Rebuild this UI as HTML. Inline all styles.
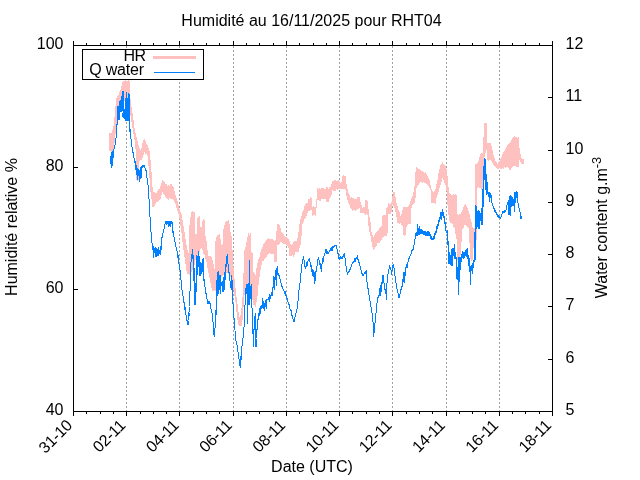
<!DOCTYPE html>
<html lang="fr"><head><meta charset="utf-8"><title>Humidité RHT04</title>
<style>html,body{margin:0;padding:0;background:#fff;}svg{display:block;will-change:transform;}text{font-family:"Liberation Sans",sans-serif;font-size:16px;fill:#000;}</style></head><body>
<svg width="640" height="480" viewBox="0 0 640 480">
<rect width="640" height="480" fill="#fff"/>
<g stroke="#a0a0a0" stroke-width="1" stroke-dasharray="2,2" shape-rendering="crispEdges">
<line x1="126.5" y1="412.0" x2="126.5" y2="45.5"/>
<line x1="179.5" y1="412.0" x2="179.5" y2="45.5"/>
<line x1="233.5" y1="412.0" x2="233.5" y2="45.5"/>
<line x1="286.5" y1="412.0" x2="286.5" y2="45.5"/>
<line x1="339.5" y1="412.0" x2="339.5" y2="45.5"/>
<line x1="392.5" y1="412.0" x2="392.5" y2="45.5"/>
<line x1="446.5" y1="412.0" x2="446.5" y2="45.5"/>
<line x1="499.5" y1="412.0" x2="499.5" y2="45.5"/>
</g>
<polygon fill="#ffc0c0" stroke="none" shape-rendering="crispEdges" points="109.0,133.0 109.8,132.6 110.5,133.4 111.2,133.1 112.0,133.0 112.7,129.3 113.3,126.6 114.0,125.0 114.5,117.0 115.0,111.0 115.6,104.8 116.2,99.0 117.0,96.5 117.8,96.1 118.6,94.3 119.4,92.5 120.2,91.4 121.0,88.0 121.8,85.6 122.5,81.5 123.3,80.5 124.2,80.7 125.0,81.0 125.7,80.2 126.3,81.3 127.0,81.0 127.9,81.1 128.8,79.9 129.8,81.0 130.0,92.0 130.6,100.0 131.3,105.4 132.0,109.6 132.8,115.0 133.2,118.4 133.8,122.0 134.4,127.2 135.0,131.0 135.6,132.9 136.2,136.0 136.5,137.0 137.3,140.1 138.1,143.6 138.9,146.0 139.2,147.0 140.1,149.7 141.0,150.0 141.8,146.3 142.5,143.0 143.4,140.4 144.4,139.4 145.2,139.7 145.9,142.8 146.7,144.5 147.5,145.0 148.2,147.5 149.0,149.0 149.5,150.9 150.0,152.5 150.6,161.1 151.2,168.0 151.9,177.4 152.5,187.0 153.2,192.0 154.1,191.3 155.1,193.0 156.0,193.0 156.8,193.0 157.6,191.1 158.4,189.5 159.2,189.0 160.0,189.0 160.8,184.9 161.7,182.1 162.5,180.0 163.3,180.7 164.2,180.9 165.0,182.9 165.8,184.5 166.7,184.1 167.5,185.6 168.4,184.9 169.3,186.1 170.2,183.9 171.1,183.7 172.0,184.0 172.8,186.5 173.5,187.3 174.2,190.4 175.0,193.0 175.8,196.8 176.7,198.4 177.5,201.0 178.3,204.4 179.2,208.0 180.0,210.0 180.6,212.1 181.2,212.5 182.1,217.4 182.9,221.9 183.8,228.0 184.7,232.9 185.6,240.0 186.3,243.8 187.0,249.0 187.8,251.3 188.5,253.1 189.3,257.0 189.4,226.0 190.3,218.0 191.2,212.0 192.2,210.9 193.1,212.3 194.1,211.4 195.0,212.0 195.1,234.0 195.9,233.7 196.8,234.0 196.9,217.0 197.7,217.8 198.4,216.9 199.2,216.0 200.0,217.0 200.1,227.5 200.9,227.1 201.8,227.5 201.9,220.0 202.7,220.8 203.4,218.9 204.2,220.1 205.0,220.0 205.1,234.0 206.0,238.4 206.9,242.5 207.4,248.8 208.0,255.0 209.0,256.5 209.9,255.7 210.9,256.1 211.9,257.5 212.8,261.3 213.8,265.0 214.4,268.1 215.0,272.0 215.1,242.0 216.1,238.9 217.0,234.4 217.8,235.2 218.5,235.2 219.2,233.7 220.0,234.4 220.6,239.4 221.2,245.0 222.2,243.9 223.1,245.0 223.2,230.0 224.1,226.1 225.1,224.4 226.0,220.0 226.9,221.0 227.8,221.1 228.8,220.0 229.7,225.6 230.6,232.5 231.2,234.5 231.9,238.0 232.8,255.3 233.8,272.0 234.7,281.3 235.6,289.0 236.4,296.0 237.2,301.3 238.0,309.0 238.8,314.0 239.5,317.0 240.2,316.1 241.0,314.0 241.6,307.2 242.2,302.0 243.0,290.0 243.5,273.6 244.0,258.0 244.5,250.0 245.2,248.6 246.0,245.0 246.7,241.1 247.3,238.2 248.0,234.0 248.8,233.1 249.6,235.0 250.4,233.2 251.2,234.0 251.3,252.0 252.2,253.2 253.0,252.0 253.1,272.0 253.9,272.6 254.7,273.1 255.5,275.0 256.2,270.6 257.0,264.0 257.7,262.1 258.3,259.8 259.0,258.0 259.8,256.3 260.5,252.4 261.2,249.9 262.0,248.0 262.8,245.9 263.5,244.1 264.2,243.1 265.0,242.0 265.9,241.1 266.7,239.6 267.5,238.6 268.4,237.5 269.3,238.4 270.1,239.0 271.0,240.0 271.9,238.8 272.8,239.2 273.7,240.0 273.8,240.0 274.7,240.9 275.5,240.2 276.4,241.0 276.6,224.4 277.1,224.4 277.2,224.4 277.9,224.5 278.7,223.5 279.4,224.4 280.3,227.1 281.2,231.0 282.2,233.0 283.1,233.8 284.0,235.0 284.8,236.6 285.5,236.5 286.2,236.9 287.0,237.5 287.9,238.1 288.8,239.0 289.3,240.0 290.1,242.4 291.0,245.0 291.9,244.5 292.7,244.1 293.5,242.1 294.4,241.0 295.3,240.5 296.2,241.1 297.2,240.0 297.9,235.1 298.6,232.0 299.3,225.7 300.0,221.5 300.5,218.7 301.0,218.0 301.6,216.2 302.3,213.0 302.9,210.7 303.4,210.0 304.2,207.4 305.0,204.0 305.8,204.6 306.7,202.7 307.5,203.0 308.1,200.3 308.8,198.0 309.5,199.2 310.3,197.2 311.1,198.0 311.9,198.0 312.5,207.0 313.4,206.3 314.4,207.5 315.3,207.1 316.2,207.0 316.9,188.8 317.8,187.6 318.7,189.0 319.6,187.7 320.5,189.4 321.4,187.8 322.3,187.6 323.2,188.2 324.1,188.6 325.0,188.8 325.8,188.9 326.7,186.7 327.5,187.0 328.1,188.2 328.8,189.0 329.5,187.0 330.2,187.5 331.0,186.0 331.8,182.6 332.5,181.2 333.5,181.5 334.5,180.1 335.5,179.9 336.4,180.8 337.4,180.9 338.4,180.1 339.4,180.6 340.0,182.5 340.8,182.6 341.6,181.6 342.4,182.5 342.5,176.0 343.3,174.9 344.1,175.5 344.8,176.6 345.6,176.0 346.2,181.8 346.9,187.5 347.8,190.3 348.8,193.8 349.4,194.8 350.0,197.0 350.8,197.9 351.7,196.9 352.5,198.0 353.1,197.0 353.9,198.6 354.7,199.0 355.5,198.8 356.2,199.4 357.1,197.9 358.0,197.0 358.9,197.5 359.9,197.0 360.0,201.2 360.8,203.0 361.7,205.9 362.5,207.5 363.3,207.4 364.1,206.8 364.9,208.0 365.0,201.0 365.8,200.0 366.7,200.4 367.5,201.0 367.6,201.2 368.2,205.9 368.8,212.5 369.7,218.4 370.6,222.5 371.2,230.0 372.0,235.0 372.9,235.5 373.8,237.0 374.7,235.0 375.6,233.2 376.6,231.9 377.5,231.0 378.3,231.0 379.2,228.1 380.0,227.5 380.8,227.0 381.6,226.3 382.4,227.5 382.5,215.6 383.3,215.5 384.1,214.9 384.8,214.4 385.6,215.6 385.7,210.0 386.6,207.5 387.5,207.0 387.6,205.0 388.5,203.4 389.4,203.5 390.3,203.7 391.2,203.0 391.9,200.1 392.5,196.0 393.4,191.9 393.9,192.4 394.4,191.9 395.3,196.3 396.2,201.2 396.9,204.8 397.5,206.0 398.1,209.2 398.8,211.2 399.7,212.7 400.6,216.2 401.4,214.1 402.3,210.6 403.1,206.9 403.2,206.9 404.0,206.0 404.8,206.9 405.6,206.9 406.2,207.6 406.9,206.9 407.5,207.1 408.1,206.9 409.1,205.1 410.0,202.5 410.6,201.0 411.2,199.0 412.2,196.4 413.1,195.0 413.8,190.4 414.4,187.5 415.0,180.0 415.8,167.5 416.2,167.5 416.9,166.8 417.5,168.0 418.4,168.6 419.2,169.3 420.1,169.5 421.0,170.0 421.9,171.4 422.8,171.3 423.8,172.4 424.7,173.2 425.6,172.3 426.5,174.0 427.2,175.9 428.0,177.2 428.8,178.0 429.4,180.0 430.0,182.5 430.6,185.0 431.2,188.0 431.9,189.6 432.5,191.2 433.3,191.9 434.2,191.6 435.0,191.2 435.6,188.0 436.2,184.7 436.9,183.0 437.5,180.0 438.1,175.9 438.8,170.6 439.4,169.0 440.0,167.0 440.8,164.3 441.7,164.1 442.5,162.0 443.4,163.7 444.4,164.5 445.3,165.7 446.2,167.0 446.9,172.4 447.5,176.0 448.4,185.6 449.2,193.0 450.0,192.5 450.9,195.1 451.7,195.0 452.4,194.9 453.2,194.3 453.9,194.3 454.7,195.0 455.6,194.1 456.6,195.0 456.7,213.0 457.5,214.0 458.3,215.1 459.2,214.8 460.0,214.0 460.9,213.9 461.7,212.0 462.5,210.0 463.3,207.4 464.2,206.0 465.0,204.0 465.8,203.8 466.5,206.0 467.2,207.9 468.0,209.1 468.8,212.0 469.3,213.0 470.0,216.1 470.6,220.0 471.6,222.3 472.5,227.0 473.4,228.3 474.2,228.0 474.6,228.3 474.7,163.0 475.4,164.0 476.2,164.0 476.9,163.0 477.0,163.0 477.5,163.0 478.0,163.0 478.7,159.7 479.3,158.2 480.0,154.0 480.8,153.6 481.5,153.3 482.2,152.9 483.0,153.8 483.5,137.9 484.0,123.0 484.8,122.4 485.7,123.0 486.5,123.0 487.0,132.4 487.5,142.5 488.3,143.4 489.1,142.8 489.8,143.6 490.6,142.5 491.3,145.8 492.0,148.0 492.8,151.6 493.5,154.6 494.2,156.5 495.0,160.0 495.8,162.3 496.7,162.4 497.5,163.8 498.4,161.7 499.2,161.8 500.1,159.4 501.0,157.5 501.8,156.0 502.7,153.4 503.5,151.8 504.3,150.8 505.2,150.1 506.0,147.5 506.8,146.4 507.6,144.8 508.4,144.1 509.2,142.9 510.0,142.5 510.8,141.3 511.5,140.3 512.2,138.2 513.0,137.0 514.0,136.7 514.9,135.9 515.9,138.1 516.8,137.0 517.8,137.9 518.8,137.0 519.4,147.5 520.2,152.0 521.0,157.5 521.9,157.8 522.8,159.6 523.8,159.0 523.8,164.0 522.8,164.8 521.9,163.9 521.0,164.0 520.2,161.4 519.4,160.0 518.8,167.5 517.8,166.6 516.8,167.3 515.9,165.9 514.9,166.0 514.0,165.9 513.0,166.0 512.2,167.2 511.5,168.1 510.8,170.4 510.0,170.6 509.2,169.3 508.4,168.2 507.6,167.5 506.8,166.9 506.0,167.0 505.2,168.5 504.3,167.0 503.5,169.0 502.7,167.5 501.8,168.4 501.0,169.0 500.1,168.5 499.2,168.4 498.4,169.6 497.5,169.0 496.7,168.0 495.8,166.8 495.0,167.0 494.2,164.7 493.5,164.8 492.8,163.1 492.0,162.0 491.3,159.9 490.6,160.0 489.8,160.1 489.1,161.0 488.3,160.7 487.5,160.0 487.0,156.1 486.5,150.0 485.7,152.6 484.8,156.1 484.0,160.0 483.5,178.0 483.0,194.0 482.2,193.2 481.5,189.7 480.8,189.0 480.0,187.5 479.3,187.7 478.7,187.2 478.0,187.5 477.5,188.3 477.0,200.0 476.9,240.0 476.2,239.5 475.4,240.5 474.7,240.0 474.6,240.0 474.2,240.0 473.4,249.4 472.5,260.6 471.6,261.2 470.6,260.6 470.0,251.1 469.3,240.0 468.8,229.0 468.0,227.6 467.2,226.5 466.5,226.0 465.8,225.5 465.0,225.0 464.2,225.2 463.3,228.6 462.5,229.0 461.7,240.0 460.9,250.5 460.0,260.0 459.2,260.0 458.3,259.1 457.5,260.0 456.7,250.0 456.6,240.0 455.6,234.1 454.7,228.0 453.9,226.9 453.2,226.6 452.4,223.7 451.7,223.0 450.9,223.5 450.0,221.6 449.2,221.0 448.4,214.0 447.5,205.0 446.9,195.5 446.2,187.5 445.3,184.2 444.4,182.7 443.4,179.9 442.5,178.0 441.7,181.8 440.8,184.1 440.0,188.0 439.4,188.3 438.8,191.0 438.1,192.5 437.5,195.0 436.9,196.2 436.2,199.4 435.6,203.8 435.0,203.8 434.2,202.5 433.3,203.5 432.5,203.0 431.9,203.2 431.2,202.5 430.6,190.0 430.0,188.7 429.4,188.0 428.8,186.0 428.0,186.5 427.2,184.0 426.5,184.0 425.6,183.1 424.7,182.7 423.8,182.0 422.8,182.8 421.9,182.9 421.0,182.0 420.1,181.8 419.2,184.4 418.4,185.3 417.5,186.0 416.9,187.6 416.2,187.5 415.8,195.0 415.0,202.5 414.4,203.0 413.8,203.7 413.1,205.0 412.2,205.7 411.2,208.8 410.6,223.8 410.0,223.8 409.1,224.2 408.1,223.8 407.5,224.7 406.9,223.8 406.2,230.2 405.6,235.0 404.8,235.8 404.0,235.1 403.2,235.0 403.1,226.2 402.3,225.9 401.4,224.4 400.6,223.0 399.7,223.8 398.8,223.0 398.1,223.1 397.5,222.5 396.9,218.4 396.2,216.0 395.3,211.3 394.4,207.5 393.9,207.7 393.4,206.0 392.5,205.0 391.9,209.9 391.2,214.0 390.3,214.6 389.4,214.4 388.5,214.4 387.6,216.0 387.5,236.0 386.6,235.8 385.7,236.0 385.6,236.0 384.8,235.9 384.1,237.0 383.3,237.5 382.5,238.0 382.4,240.0 381.6,240.4 380.8,241.0 380.0,242.0 379.2,243.3 378.3,242.4 377.5,242.5 376.6,245.7 375.6,246.6 374.7,248.8 373.8,251.0 372.9,247.9 372.0,246.0 371.2,240.0 370.6,236.0 369.7,232.4 368.8,228.0 368.2,224.8 367.6,220.0 367.5,215.0 366.7,214.2 365.8,215.6 365.0,215.0 364.9,214.4 364.1,213.2 363.3,213.4 362.5,213.5 361.7,213.3 360.8,213.3 360.0,212.0 359.9,208.0 358.9,209.2 358.0,208.0 357.1,209.3 356.2,210.6 355.5,211.4 354.7,210.4 353.9,209.7 353.1,210.6 352.5,210.6 351.7,209.5 350.8,208.7 350.0,207.5 349.4,204.6 348.8,204.0 347.8,200.3 346.9,199.0 346.2,193.7 345.6,190.0 344.8,189.3 344.1,189.2 343.3,188.8 342.5,189.4 342.4,189.4 341.6,188.6 340.8,188.8 340.0,189.4 339.4,189.4 338.4,188.6 337.4,190.6 336.4,189.3 335.5,190.6 334.5,190.7 333.5,190.6 332.5,190.0 331.8,194.1 331.0,196.0 330.2,197.8 329.5,198.9 328.8,202.0 328.1,202.7 327.5,202.5 326.7,202.3 325.8,199.4 325.0,198.8 324.1,199.9 323.2,198.1 322.3,199.8 321.4,198.7 320.5,200.6 319.6,200.7 318.7,199.8 317.8,199.5 316.9,200.0 316.2,215.6 315.3,215.5 314.4,214.4 313.4,215.2 312.5,215.6 311.9,210.0 311.1,209.6 310.3,209.8 309.5,210.8 308.8,210.0 308.1,211.5 307.5,213.0 306.7,215.8 305.8,217.5 305.0,218.0 304.2,219.1 303.4,222.0 302.9,223.7 302.3,224.4 301.6,234.7 301.0,243.0 300.5,245.4 300.0,247.0 299.3,249.1 298.6,252.5 297.9,252.4 297.2,252.5 296.2,251.6 295.3,252.5 294.4,255.8 293.5,256.8 292.7,255.1 291.9,256.5 291.0,255.5 290.1,256.5 289.3,255.3 288.8,248.8 287.9,247.0 287.0,245.0 286.2,245.1 285.5,244.3 284.8,243.7 284.0,243.5 283.1,243.6 282.2,242.5 281.2,242.0 280.3,242.5 279.4,244.0 278.7,244.5 277.9,245.3 277.2,245.0 277.1,262.0 276.6,262.0 276.4,262.0 275.5,262.0 274.7,262.1 273.8,262.0 273.7,254.0 272.8,253.9 271.9,254.7 271.0,254.0 270.1,253.2 269.3,252.8 268.4,254.0 267.5,255.1 266.7,257.0 265.9,258.0 265.0,258.0 264.2,258.9 263.5,261.0 262.8,260.8 262.0,262.0 261.2,266.7 260.5,270.5 259.8,274.8 259.0,280.0 258.3,287.6 257.7,294.4 257.0,300.0 256.2,304.1 255.5,307.5 254.7,305.2 253.9,305.3 253.1,304.0 253.0,303.0 252.2,298.4 251.3,293.0 251.2,292.0 250.4,291.8 249.6,290.7 248.8,288.2 248.0,288.0 247.3,287.9 246.7,290.4 246.0,290.0 245.2,292.3 244.5,295.0 244.0,300.0 243.5,306.7 243.0,312.0 242.2,325.6 241.6,326.3 241.0,325.6 240.2,325.5 239.5,325.6 238.8,325.5 238.0,324.0 237.2,317.4 236.4,310.7 235.6,303.0 234.7,297.5 233.8,292.0 232.8,286.5 231.9,279.0 231.2,277.3 230.6,277.0 229.7,274.8 228.8,274.0 227.8,273.0 226.9,273.8 226.0,272.0 225.1,272.9 224.1,274.5 223.2,275.0 223.1,275.0 222.2,276.0 221.2,278.0 220.6,278.9 220.0,282.0 219.2,284.0 218.5,286.6 217.8,288.7 217.0,290.0 216.1,291.7 215.1,291.0 215.0,291.0 214.4,290.3 213.8,291.0 212.8,291.2 211.9,290.0 210.9,285.7 209.9,279.7 209.0,275.5 208.0,270.0 207.4,268.1 206.9,264.0 206.0,259.9 205.1,258.0 205.0,257.0 204.2,254.2 203.4,254.1 202.7,250.2 201.9,249.0 201.8,248.0 200.9,248.4 200.1,250.0 200.0,252.0 199.2,252.3 198.4,254.5 197.7,256.9 196.9,257.0 196.8,258.0 195.9,259.1 195.1,262.0 195.0,264.0 194.1,265.6 193.1,267.2 192.2,270.9 191.2,272.0 190.3,273.2 189.4,275.0 189.3,275.0 188.5,274.2 187.8,273.9 187.0,275.0 186.3,269.2 185.6,265.0 184.7,257.7 183.8,252.5 182.9,245.7 182.1,237.9 181.2,231.0 180.6,226.7 180.0,221.0 179.2,218.3 178.3,213.3 177.5,211.0 176.7,208.3 175.8,205.5 175.0,202.0 174.2,201.4 173.5,200.3 172.8,199.2 172.0,199.0 171.1,199.0 170.2,198.4 169.3,198.2 168.4,199.9 167.5,199.0 166.7,197.6 165.8,197.5 165.0,196.4 164.2,194.2 163.3,194.1 162.5,192.0 161.7,194.1 160.8,198.0 160.0,200.0 159.2,199.6 158.4,200.9 157.6,201.9 156.8,201.5 156.0,202.5 155.1,205.4 154.1,206.3 153.2,207.5 152.5,207.0 151.9,202.4 151.2,197.0 150.6,192.6 150.0,186.0 149.5,177.9 149.0,170.0 148.2,163.2 147.5,156.0 146.7,154.6 145.9,154.2 145.2,153.4 144.4,152.0 143.4,155.0 142.5,158.0 141.8,159.6 141.0,160.0 140.1,160.1 139.2,162.0 138.9,180.0 138.1,179.5 137.3,180.9 136.5,180.0 136.2,158.0 135.6,150.4 135.0,142.5 134.4,139.7 133.8,136.0 133.2,132.5 132.8,130.0 132.0,125.5 131.3,120.5 130.6,116.0 130.0,115.0 129.8,110.0 128.8,106.0 127.9,102.3 127.0,100.0 126.3,99.7 125.7,100.2 125.0,100.0 124.2,102.4 123.3,102.4 122.5,105.0 121.8,106.0 121.0,108.0 120.2,110.4 119.4,115.0 118.6,117.3 117.8,121.1 117.0,121.8 116.2,125.0 115.6,133.3 115.0,140.0 114.5,143.0 114.0,148.0 113.3,149.2 112.7,150.7 112.0,152.0 111.2,151.7 110.5,151.0 109.8,151.2 109.0,152.0"/>
<polyline fill="none" stroke="#0080ff" stroke-width="1" stroke-linejoin="round" shape-rendering="crispEdges" points="110.6,156.3 111.2,167.2 111.2,153.5 111.2,167.5 112.0,152.5 112.0,165.5 112.5,157.2 112.8,162.5 112.8,151.5 113.5,156.3 113.5,150.5 113.5,157.5 114.1,148.2 115.5,143.5 115.6,140.5 115.6,144.5 116.0,138.1 116.5,133.6 116.9,128.5 116.9,131.5 117.0,124.4 117.5,124.5 117.5,106.5 117.5,124.3 118.3,106.2 119.0,119.5 119.0,100.5 119.5,108.7 120.7,100.0 121.0,111.5 121.0,95.5 122.0,112.1 123.0,91.5 123.0,117.5 123.1,91.5 124.4,118.1 125.8,98.1 126.0,120.5 126.0,91.5 126.7,120.2 127.5,98.6 128.0,120.5 128.0,92.5 128.8,120.3 129.2,94.5 129.2,120.5 129.4,101.8 129.6,125.5 129.6,100.5 130.0,131.5 130.0,128.5 130.6,136.5 131.1,139.6 131.2,142.5 131.6,144.3 132.1,147.2 132.6,153.0 133.1,152.5 133.6,156.5 133.8,157.5 134.1,158.0 134.6,162.4 135.1,161.6 135.6,169.4 136.2,165.6 136.2,174.5 136.2,165.5 137.5,179.5 137.5,168.5 137.5,179.5 138.6,169.9 139.4,182.0 139.4,170.5 139.9,180.5 140.9,167.2 141.0,177.5 141.0,166.5 141.9,166.5 142.3,167.3 142.8,165.7 143.3,166.6 143.8,165.1 144.0,165.8 144.3,165.6 144.8,166.2 145.3,170.3 145.8,168.2 146.2,172.5 146.3,174.3 146.8,175.6 147.3,180.3 147.8,182.0 148.0,184.5 148.3,189.8 148.8,195.2 149.3,204.5 149.4,204.5 149.4,207.5 149.8,211.7 150.3,223.5 150.6,226.5 150.6,229.5 150.8,228.7 151.3,236.4 151.8,240.3 152.3,247.1 152.5,246.5 152.5,249.5 152.8,246.9 153.3,251.6 153.5,246.5 153.5,257.5 153.9,247.7 155.2,253.7 155.9,247.5 156.0,256.5 156.0,247.5 156.5,252.0 157.4,249.6 158.0,255.5 158.0,246.5 158.8,254.7 159.6,250.7 160.6,254.5 160.6,246.5 160.8,252.3 162.0,237.5 162.0,234.9 162.5,236.0 163.0,232.8 163.5,231.6 164.0,228.8 164.4,227.5 164.5,227.1 165.0,223.8 165.5,223.9 165.6,222.3 166.0,221.2 166.5,224.6 167.0,221.2 167.5,223.9 168.0,221.1 168.0,226.5 168.0,221.7 168.5,224.7 169.0,222.2 169.5,225.7 170.0,221.1 170.0,226.5 170.0,221.6 170.5,225.7 171.0,221.5 171.5,223.5 172.0,222.3 172.0,221.5 172.5,228.6 173.0,232.5 173.0,230.5 173.5,235.7 174.0,236.7 174.5,240.2 175.0,241.9 175.5,245.8 175.6,245.0 176.0,246.8 176.5,249.7 177.0,250.4 177.5,255.7 178.0,257.5 178.0,255.4 178.5,262.0 179.0,264.1 179.5,268.8 179.8,270.0 180.0,269.8 180.5,277.2 181.0,280.0 181.5,286.0 182.0,290.0 182.0,289.6 182.5,294.7 183.0,296.3 183.5,300.0 184.0,302.4 184.5,306.4 185.0,309.5 185.0,307.3 185.5,312.6 186.0,314.4 186.5,320.6 187.0,319.4 187.4,325.0 187.4,321.5 187.5,323.9 188.0,322.7 188.2,325.0 188.2,321.5 188.5,320.5 189.0,312.5 189.0,315.5 189.0,312.6 189.5,306.5 189.7,300.5 189.7,303.5 190.0,291.4 190.5,276.8 190.6,268.5 190.6,274.5 191.0,262.2 191.5,261.5 191.5,254.5 191.7,260.2 192.5,249.5 192.5,255.5 192.8,252.3 193.5,274.5 193.5,255.5 194.1,285.0 194.5,268.5 194.5,291.5 194.8,277.0 195.0,305.0 195.0,283.5 195.6,305.0 195.6,283.5 196.1,291.7 196.2,268.5 196.2,291.5 197.0,255.5 197.0,274.5 197.2,262.6 198.0,261.5 198.0,251.1 198.5,266.1 199.0,255.5 199.0,271.5 199.4,258.5 200.0,275.5 200.0,262.5 200.1,275.2 201.0,262.5 201.0,273.5 201.1,265.7 202.0,271.5 202.0,260.5 202.4,266.3 203.1,258.0 203.1,267.5 203.3,265.5 203.8,280.5 203.8,272.5 203.9,278.2 204.8,283.8 205.3,290.5 205.6,290.5 205.6,293.5 205.8,291.5 206.3,296.0 206.8,297.1 207.3,300.8 207.8,301.5 208.0,303.5 208.3,303.8 208.8,301.3 209.3,303.5 209.8,301.6 210.0,302.5 210.3,306.0 210.6,307.5 210.8,307.7 211.3,311.3 211.8,311.9 212.3,315.2 212.5,315.5 212.8,318.7 213.3,326.2 213.8,331.8 214.2,337.0 214.3,336.1 214.8,329.1 215.3,327.0 215.5,320.5 215.5,325.5 215.8,310.4 216.2,314.5 216.2,280.5 216.9,298.5 217.5,272.8 217.5,295.5 217.5,272.5 218.1,293.5 218.1,271.1 218.9,292.4 220.0,275.5 220.0,293.5 220.2,275.6 221.4,285.2 222.6,281.6 223.0,291.5 223.0,276.5 223.3,291.1 224.4,272.5 224.4,289.5 224.4,276.9 225.1,279.7 225.5,264.5 225.5,274.5 226.5,259.0 226.9,261.5 226.9,256.5 227.2,257.5 227.2,254.5 227.8,262.5 228.3,265.7 228.8,272.5 228.8,268.5 228.8,272.0 229.3,273.4 229.8,279.8 230.3,282.2 230.6,287.5 230.6,283.5 230.8,287.7 231.3,279.5 231.9,289.5 231.9,275.5 232.5,298.8 232.5,297.5 232.5,300.5 233.0,304.1 233.5,313.0 233.8,313.5 233.8,316.5 234.0,318.1 234.5,325.2 235.0,330.3 235.5,338.1 235.6,339.0 236.0,341.0 236.5,343.7 237.0,345.1 237.5,348.2 237.5,348.0 238.0,351.7 238.5,356.1 239.0,358.7 239.5,364.0 239.5,363.5 240.0,366.2 240.2,367.2 240.5,365.2 241.0,355.9 241.0,359.5 241.0,356.5 241.5,353.9 242.0,346.1 242.5,342.1 242.5,340.5 242.5,343.5 243.0,338.1 243.5,334.6 243.8,332.5 244.0,327.3 244.5,316.4 244.8,310.0 245.0,304.9 245.5,299.3 246.0,288.0 246.0,288.5 246.5,293.6 247.0,284.5 247.0,299.5 247.3,284.5 247.3,323.5 247.4,284.9 247.7,323.5 247.7,284.5 248.0,304.5 248.0,284.5 248.3,296.8 249.0,282.8 249.2,304.5 249.2,282.5 249.3,299.5 249.3,260.5 249.8,299.5 249.8,260.5 249.9,304.5 249.9,282.5 250.4,299.0 251.4,284.4 251.5,306.5 251.5,284.5 252.1,312.4 252.5,316.5 252.5,321.5 252.9,329.5 253.4,347.0 253.4,338.5 254.4,323.8 254.5,316.5 254.5,321.5 254.9,316.7 255.3,317.5 255.3,313.5 255.4,319.7 255.9,336.5 256.0,347.0 256.0,338.5 257.0,329.5 257.0,325.5 257.0,328.5 257.5,321.3 258.0,319.5 258.0,316.5 258.0,319.0 258.5,313.7 259.0,316.4 259.5,308.1 260.0,313.5 260.0,305.5 260.1,313.0 260.9,307.1 261.6,308.3 262.8,298.8 262.8,307.5 262.8,298.5 263.7,308.8 264.0,303.5 264.0,310.5 264.9,303.8 265.9,307.0 266.0,300.5 266.0,308.5 267.0,298.8 268.1,300.1 269.4,295.4 269.4,301.5 269.4,294.5 270.5,298.5 271.4,292.1 272.0,295.5 272.0,286.5 272.1,293.0 272.9,288.0 273.7,287.5 274.0,276.5 274.0,289.5 274.4,281.1 275.9,278.5 276.0,270.5 276.0,285.5 276.7,268.8 277.8,274.5 277.8,266.1 277.9,272.6 279.1,275.8 279.6,278.1 280.0,278.5 280.0,281.5 280.1,278.9 280.6,281.6 281.1,283.4 281.6,286.9 282.1,286.1 282.5,288.0 282.6,288.6 283.1,289.2 283.6,290.5 284.1,291.1 284.6,293.1 285.1,291.7 285.6,295.2 286.1,294.9 286.6,297.5 286.6,297.0 287.1,298.8 287.6,300.5 288.1,302.0 288.6,304.2 289.1,304.4 289.6,308.0 290.1,309.1 290.3,310.0 290.6,311.0 291.1,310.3 291.6,315.5 292.1,315.3 292.6,317.6 293.1,318.9 293.6,320.8 294.0,322.0 294.1,321.1 294.6,320.0 295.1,316.8 295.6,315.4 296.1,312.8 296.6,311.3 297.0,309.0 297.1,308.8 297.6,304.3 298.1,299.8 298.6,295.5 299.1,289.2 299.6,287.4 299.7,286.0 300.1,282.2 300.6,277.6 301.1,271.7 301.6,267.7 301.6,267.0 302.1,263.8 302.6,261.5 303.1,258.3 303.4,257.0 303.6,258.4 304.1,260.8 304.6,264.8 305.1,267.2 305.3,269.0 305.6,268.8 306.1,265.5 306.6,266.2 307.0,262.5 307.0,265.5 307.1,262.5 307.6,262.8 308.1,260.9 308.6,260.3 309.0,259.0 309.1,257.8 309.6,261.3 310.1,262.1 310.6,266.8 311.1,265.5 311.6,271.5 312.0,268.5 312.0,273.5 312.1,268.9 312.6,275.5 313.4,270.7 314.7,284.0 314.7,272.5 314.9,282.5 316.2,269.6 316.5,271.5 316.5,268.5 316.7,269.7 317.2,264.2 317.7,262.3 318.2,257.6 318.4,257.0 318.7,258.7 319.2,260.2 319.7,264.5 320.2,263.7 320.7,268.8 321.0,266.5 321.0,271.5 321.2,267.5 321.7,266.4 322.2,262.5 322.7,261.5 323.0,258.5 323.0,261.5 323.2,258.4 323.7,258.0 324.2,254.4 324.7,255.1 325.2,251.0 325.7,250.3 326.0,249.0 326.2,249.6 326.7,253.5 327.2,251.0 327.7,254.0 327.8,254.0 328.2,253.1 328.7,252.7 329.2,251.1 329.7,251.2 330.2,249.1 330.7,250.4 331.2,247.2 331.6,247.5 331.7,250.1 332.2,246.7 332.7,250.1 333.2,246.3 333.7,247.6 334.0,246.5 334.2,245.4 334.7,246.8 335.2,245.4 335.7,245.9 336.2,244.9 336.2,245.0 336.7,248.2 337.2,249.7 337.7,253.1 338.0,252.5 338.0,255.5 338.2,254.5 338.7,258.4 339.0,256.5 339.0,259.5 339.2,257.3 339.7,257.8 340.2,256.8 340.7,258.1 341.2,257.4 341.7,258.1 342.0,257.5 342.2,256.5 342.7,258.1 343.2,255.6 343.7,256.0 344.2,253.2 344.7,255.0 344.7,256.3 345.2,258.7 345.7,263.1 346.0,265.5 346.2,267.0 346.7,269.8 347.2,273.2 347.5,275.0 347.7,274.5 348.2,271.4 348.7,272.7 349.2,271.1 349.7,270.9 350.0,269.5 350.2,268.0 350.7,269.2 351.2,265.5 351.7,265.3 352.0,264.0 352.2,262.0 352.7,262.3 353.2,261.7 353.7,262.8 354.2,260.6 354.7,260.8 355.0,258.5 355.0,261.5 355.2,260.1 355.7,259.7 356.2,257.0 356.7,258.2 357.2,255.6 357.2,256.5 357.7,258.2 358.2,260.3 358.7,262.4 359.2,262.8 359.7,265.6 360.0,266.0 360.2,266.5 360.7,269.0 361.2,270.5 361.7,272.6 362.2,274.0 362.5,275.0 362.7,275.1 363.2,274.1 363.7,275.7 364.2,272.8 364.5,273.5 364.7,273.5 365.2,271.7 365.7,273.8 366.2,270.6 366.2,273.5 366.2,270.5 366.7,279.4 367.0,282.0 367.2,283.3 367.7,287.2 368.2,289.4 368.7,293.1 369.2,295.7 369.7,299.7 370.0,301.0 370.2,302.5 370.7,306.9 371.2,307.3 371.7,311.9 372.2,314.0 372.7,318.2 372.8,318.0 373.2,326.0 373.7,336.4 373.8,336.0 374.2,330.3 374.7,325.9 375.0,323.0 375.2,319.7 375.7,316.5 376.2,310.9 376.5,309.0 376.7,306.5 377.2,301.5 377.5,299.0 377.7,299.1 378.2,295.5 378.7,297.4 379.2,293.3 379.7,295.1 380.0,288.5 380.0,295.5 381.0,285.3 381.5,291.5 381.5,282.5 381.9,285.5 382.8,275.8 383.0,277.5 383.0,274.5 383.3,279.1 383.8,281.1 384.3,286.1 384.6,286.5 384.6,289.5 384.8,287.6 385.3,291.0 385.8,291.0 386.4,298.9 386.5,290.5 386.5,299.5 387.2,277.0 387.8,274.3 388.3,272.9 388.8,269.6 389.3,268.5 389.7,265.8 389.8,266.0 390.3,268.6 390.8,268.4 391.3,271.9 391.5,270.5 391.5,274.5 391.8,270.2 392.3,270.4 392.8,266.6 393.3,264.0 393.4,264.0 393.8,266.4 394.3,270.7 394.7,274.0 394.8,273.6 395.3,279.8 395.8,281.1 396.3,285.6 396.5,287.0 396.8,287.8 397.3,290.4 397.8,292.2 398.3,294.9 398.8,297.3 399.0,298.0 399.3,297.0 399.8,294.6 400.3,293.4 400.8,289.2 401.2,289.0 401.3,289.2 401.8,286.7 402.3,286.1 402.8,279.9 403.3,280.8 404.0,272.5 404.0,282.5 404.1,272.2 405.1,275.3 406.3,264.3 407.0,267.5 407.0,261.5 407.6,265.1 408.1,261.7 408.6,261.8 409.1,257.4 409.6,258.8 410.1,255.9 410.6,255.0 410.6,255.1 411.1,253.8 411.6,252.9 412.1,249.6 412.6,250.7 413.1,249.2 413.4,249.0 413.6,248.2 414.1,243.9 414.6,241.0 415.1,238.6 415.3,238.0 415.6,237.1 416.1,232.2 417.0,235.5 417.0,223.5 417.6,235.2 418.3,228.0 419.0,234.5 419.0,225.5 419.8,232.3 420.6,229.7 421.0,233.5 421.0,229.5 421.1,232.3 421.6,229.8 422.1,233.8 422.6,230.4 423.1,234.4 423.6,231.2 424.1,234.8 424.6,231.2 425.1,235.3 425.6,231.5 425.6,235.5 425.6,232.5 426.1,235.5 426.6,232.6 427.1,235.4 427.6,231.5 428.1,233.6 428.6,231.6 429.0,235.5 429.0,231.5 429.1,233.8 429.6,234.2 430.1,235.4 430.6,234.4 431.1,239.6 431.6,236.7 432.1,239.3 432.6,238.2 433.0,239.5 433.1,240.1 433.6,236.6 434.1,238.4 434.6,233.0 435.1,234.6 435.6,231.1 436.0,232.5 436.0,228.5 436.1,231.9 436.6,226.7 437.1,229.0 437.6,224.0 438.1,224.9 438.6,220.8 438.8,225.5 438.8,220.5 439.1,221.6 439.6,217.3 440.1,219.0 441.0,212.5 441.0,219.5 441.4,212.0 442.4,215.5 442.5,209.5 442.5,215.5 443.2,212.3 444.1,218.7 444.4,216.5 444.4,223.5 445.3,222.5 445.3,229.5 445.6,227.1 446.3,233.0 447.2,230.5 447.2,236.5 447.7,237.2 448.0,244.5 448.0,240.5 448.2,247.2 448.7,249.0 449.0,263.5 449.0,251.5 450.2,264.3 451.5,249.6 452.0,265.5 452.0,248.0 452.3,264.8 453.6,248.3 454.4,257.8 454.7,244.5 454.7,258.5 455.8,252.9 456.5,275.1 456.5,257.5 456.9,279.1 457.7,267.2 458.4,294.5 458.4,257.5 458.9,287.0 459.6,257.6 460.3,269.5 460.3,257.5 460.7,266.2 461.6,254.9 462.7,257.5 463.0,251.5 463.0,258.5 464.1,251.9 464.8,257.6 466.1,249.5 467.0,256.5 467.0,248.0 467.4,258.3 468.7,255.8 468.8,265.5 468.8,255.5 470.0,272.4 470.6,266.5 470.6,284.5 471.1,265.6 472.5,273.5 472.5,263.0 472.5,272.1 473.9,260.6 474.4,261.5 474.4,260.5 474.9,232.7 475.3,259.5 475.3,206.5 475.6,241.5 476.0,205.5 476.0,228.5 476.8,206.8 477.8,226.3 478.9,210.5 479.0,228.5 479.0,210.5 480.2,220.4 481.5,208.1 482.0,224.5 482.0,206.5 482.8,213.8 482.8,189.5 482.8,215.5 483.8,175.5 483.8,189.5 484.0,166.4 484.3,175.5 484.3,158.5 485.0,179.5 485.0,158.5 485.4,174.5 485.7,166.5 485.7,189.5 486.5,176.4 486.6,194.5 486.6,174.5 487.6,193.3 488.2,192.9 488.4,195.5 488.4,192.5 488.7,196.9 489.2,192.6 489.5,201.5 489.5,192.5 489.9,198.9 490.6,193.5 491.2,195.5 491.7,201.3 492.2,204.5 492.2,203.8 492.7,205.9 493.2,206.0 493.7,208.2 494.2,208.5 494.7,212.0 495.0,211.5 495.2,210.8 495.7,212.4 496.2,212.3 496.7,214.1 497.2,214.1 497.7,217.0 497.8,214.8 498.2,215.4 498.7,217.2 499.2,216.6 499.7,218.0 500.2,218.4 500.3,219.0 500.7,218.0 501.2,216.0 501.7,216.4 502.2,212.8 502.5,212.0 502.7,212.3 503.2,211.7 503.7,212.5 504.2,210.7 504.5,211.5 504.7,212.2 505.2,210.6 505.7,211.1 506.2,208.8 506.2,209.5 506.7,207.8 507.2,203.6 507.5,202.5 507.7,204.4 508.2,200.4 509.0,214.5 509.0,198.5 509.2,212.1 510.0,196.4 510.2,215.5 510.2,195.5 510.7,212.0 511.6,196.8 512.0,204.5 512.0,196.5 512.5,205.8 513.5,199.8 514.4,211.5 514.4,192.5 514.7,206.0 515.9,192.6 516.0,197.5 516.0,192.5 517.0,191.5 517.1,193.6 517.6,197.8 518.0,202.5 518.1,203.9 518.6,204.9 519.1,208.4 519.6,209.6 520.0,212.0 520.1,215.0 520.6,219.0 520.6,218.5 521.1,218.4 521.6,216.7 522.1,216.2"/>
<g stroke="#000" stroke-width="1" fill="none" shape-rendering="crispEdges">
<rect x="73.5" y="45.5" width="479.0" height="366.0"/>
<line x1="73.5" y1="411.5" x2="73.5" y2="416.0"/>
<line x1="73.5" y1="45.5" x2="73.5" y2="41.0"/>
<line x1="86.5" y1="411.5" x2="86.5" y2="414.0"/>
<line x1="86.5" y1="45.5" x2="86.5" y2="43.0"/>
<line x1="100.5" y1="411.5" x2="100.5" y2="414.0"/>
<line x1="100.5" y1="45.5" x2="100.5" y2="43.0"/>
<line x1="113.5" y1="411.5" x2="113.5" y2="414.0"/>
<line x1="113.5" y1="45.5" x2="113.5" y2="43.0"/>
<line x1="126.5" y1="411.5" x2="126.5" y2="416.0"/>
<line x1="126.5" y1="45.5" x2="126.5" y2="41.0"/>
<line x1="140.5" y1="411.5" x2="140.5" y2="414.0"/>
<line x1="140.5" y1="45.5" x2="140.5" y2="43.0"/>
<line x1="153.5" y1="411.5" x2="153.5" y2="414.0"/>
<line x1="153.5" y1="45.5" x2="153.5" y2="43.0"/>
<line x1="166.5" y1="411.5" x2="166.5" y2="414.0"/>
<line x1="166.5" y1="45.5" x2="166.5" y2="43.0"/>
<line x1="179.5" y1="411.5" x2="179.5" y2="416.0"/>
<line x1="179.5" y1="45.5" x2="179.5" y2="41.0"/>
<line x1="193.5" y1="411.5" x2="193.5" y2="414.0"/>
<line x1="193.5" y1="45.5" x2="193.5" y2="43.0"/>
<line x1="206.5" y1="411.5" x2="206.5" y2="414.0"/>
<line x1="206.5" y1="45.5" x2="206.5" y2="43.0"/>
<line x1="219.5" y1="411.5" x2="219.5" y2="414.0"/>
<line x1="219.5" y1="45.5" x2="219.5" y2="43.0"/>
<line x1="233.5" y1="411.5" x2="233.5" y2="416.0"/>
<line x1="233.5" y1="45.5" x2="233.5" y2="41.0"/>
<line x1="246.5" y1="411.5" x2="246.5" y2="414.0"/>
<line x1="246.5" y1="45.5" x2="246.5" y2="43.0"/>
<line x1="259.5" y1="411.5" x2="259.5" y2="414.0"/>
<line x1="259.5" y1="45.5" x2="259.5" y2="43.0"/>
<line x1="273.5" y1="411.5" x2="273.5" y2="414.0"/>
<line x1="273.5" y1="45.5" x2="273.5" y2="43.0"/>
<line x1="286.5" y1="411.5" x2="286.5" y2="416.0"/>
<line x1="286.5" y1="45.5" x2="286.5" y2="41.0"/>
<line x1="299.5" y1="411.5" x2="299.5" y2="414.0"/>
<line x1="299.5" y1="45.5" x2="299.5" y2="43.0"/>
<line x1="313.5" y1="411.5" x2="313.5" y2="414.0"/>
<line x1="313.5" y1="45.5" x2="313.5" y2="43.0"/>
<line x1="326.5" y1="411.5" x2="326.5" y2="414.0"/>
<line x1="326.5" y1="45.5" x2="326.5" y2="43.0"/>
<line x1="339.5" y1="411.5" x2="339.5" y2="416.0"/>
<line x1="339.5" y1="45.5" x2="339.5" y2="41.0"/>
<line x1="352.5" y1="411.5" x2="352.5" y2="414.0"/>
<line x1="352.5" y1="45.5" x2="352.5" y2="43.0"/>
<line x1="366.5" y1="411.5" x2="366.5" y2="414.0"/>
<line x1="366.5" y1="45.5" x2="366.5" y2="43.0"/>
<line x1="379.5" y1="411.5" x2="379.5" y2="414.0"/>
<line x1="379.5" y1="45.5" x2="379.5" y2="43.0"/>
<line x1="392.5" y1="411.5" x2="392.5" y2="416.0"/>
<line x1="392.5" y1="45.5" x2="392.5" y2="41.0"/>
<line x1="406.5" y1="411.5" x2="406.5" y2="414.0"/>
<line x1="406.5" y1="45.5" x2="406.5" y2="43.0"/>
<line x1="419.5" y1="411.5" x2="419.5" y2="414.0"/>
<line x1="419.5" y1="45.5" x2="419.5" y2="43.0"/>
<line x1="432.5" y1="411.5" x2="432.5" y2="414.0"/>
<line x1="432.5" y1="45.5" x2="432.5" y2="43.0"/>
<line x1="446.5" y1="411.5" x2="446.5" y2="416.0"/>
<line x1="446.5" y1="45.5" x2="446.5" y2="41.0"/>
<line x1="459.5" y1="411.5" x2="459.5" y2="414.0"/>
<line x1="459.5" y1="45.5" x2="459.5" y2="43.0"/>
<line x1="472.5" y1="411.5" x2="472.5" y2="414.0"/>
<line x1="472.5" y1="45.5" x2="472.5" y2="43.0"/>
<line x1="485.5" y1="411.5" x2="485.5" y2="414.0"/>
<line x1="485.5" y1="45.5" x2="485.5" y2="43.0"/>
<line x1="499.5" y1="411.5" x2="499.5" y2="416.0"/>
<line x1="499.5" y1="45.5" x2="499.5" y2="41.0"/>
<line x1="512.5" y1="411.5" x2="512.5" y2="414.0"/>
<line x1="512.5" y1="45.5" x2="512.5" y2="43.0"/>
<line x1="525.5" y1="411.5" x2="525.5" y2="414.0"/>
<line x1="525.5" y1="45.5" x2="525.5" y2="43.0"/>
<line x1="539.5" y1="411.5" x2="539.5" y2="414.0"/>
<line x1="539.5" y1="45.5" x2="539.5" y2="43.0"/>
<line x1="552.5" y1="411.5" x2="552.5" y2="416.0"/>
<line x1="552.5" y1="45.5" x2="552.5" y2="41.0"/>
<line x1="73.5" y1="411.5" x2="78.0" y2="411.5"/>
<line x1="73.5" y1="289.5" x2="78.0" y2="289.5"/>
<line x1="73.5" y1="167.5" x2="78.0" y2="167.5"/>
<line x1="73.5" y1="45.5" x2="78.0" y2="45.5"/>
<line x1="552.5" y1="411.5" x2="548.0" y2="411.5"/>
<line x1="552.5" y1="359.5" x2="548.0" y2="359.5"/>
<line x1="552.5" y1="306.5" x2="548.0" y2="306.5"/>
<line x1="552.5" y1="254.5" x2="548.0" y2="254.5"/>
<line x1="552.5" y1="202.5" x2="548.0" y2="202.5"/>
<line x1="552.5" y1="150.5" x2="548.0" y2="150.5"/>
<line x1="552.5" y1="97.5" x2="548.0" y2="97.5"/>
<line x1="552.5" y1="45.5" x2="548.0" y2="45.5"/>
</g>
<rect x="82.5" y="49.5" width="121" height="30" fill="#fff" stroke="#000" stroke-width="1" shape-rendering="crispEdges"/>
<text x="145.5" y="61" text-anchor="end" letter-spacing="-0.5">HR</text>
<text x="143.8" y="75" text-anchor="end" letter-spacing="-0.2">Q water</text>
<line x1="153" y1="57.5" x2="196" y2="57.5" stroke="#ffc0c0" stroke-width="3" shape-rendering="crispEdges"/>
<line x1="154" y1="72.5" x2="195" y2="72.5" stroke="#0080ff" stroke-width="1" shape-rendering="crispEdges"/>
<text x="311.5" y="26" text-anchor="middle">Humidité au 16/11/2025 pour RHT04</text>
<text x="312" y="471.5" text-anchor="middle">Date (UTC)</text>
<text transform="translate(17,227) rotate(-90)" text-anchor="middle">Humidité relative %</text>
<text transform="translate(606.5,227.5) rotate(-90)" text-anchor="middle">Water content g.m<tspan font-size="12.8px" dy="-6">-3</tspan></text>
<text x="63.5" y="415.0" text-anchor="end">40</text>
<text x="63.5" y="293.0" text-anchor="end">60</text>
<text x="63.5" y="171.0" text-anchor="end">80</text>
<text x="63.5" y="49.0" text-anchor="end">100</text>
<text x="565.5" y="415.0">5</text>
<text x="565.5" y="362.7">6</text>
<text x="565.5" y="310.4">7</text>
<text x="565.5" y="258.1">8</text>
<text x="565.5" y="205.9">9</text>
<text x="565.5" y="153.6">10</text>
<text x="565.5" y="101.3">11</text>
<text x="565.5" y="49.0">12</text>
<text transform="translate(73.2,426.3) rotate(-45)" text-anchor="end" letter-spacing="-0.3">31-10</text>
<text transform="translate(126.4,426.3) rotate(-45)" text-anchor="end" letter-spacing="-0.3">02-11</text>
<text transform="translate(179.6,426.3) rotate(-45)" text-anchor="end" letter-spacing="-0.3">04-11</text>
<text transform="translate(232.9,426.3) rotate(-45)" text-anchor="end" letter-spacing="-0.3">06-11</text>
<text transform="translate(286.1,426.3) rotate(-45)" text-anchor="end" letter-spacing="-0.3">08-11</text>
<text transform="translate(339.3,426.3) rotate(-45)" text-anchor="end" letter-spacing="-0.3">10-11</text>
<text transform="translate(392.5,426.3) rotate(-45)" text-anchor="end" letter-spacing="-0.3">12-11</text>
<text transform="translate(445.8,426.3) rotate(-45)" text-anchor="end" letter-spacing="-0.3">14-11</text>
<text transform="translate(499.0,426.3) rotate(-45)" text-anchor="end" letter-spacing="-0.3">16-11</text>
<text transform="translate(552.2,426.3) rotate(-45)" text-anchor="end" letter-spacing="-0.3">18-11</text>
</svg></body></html>
